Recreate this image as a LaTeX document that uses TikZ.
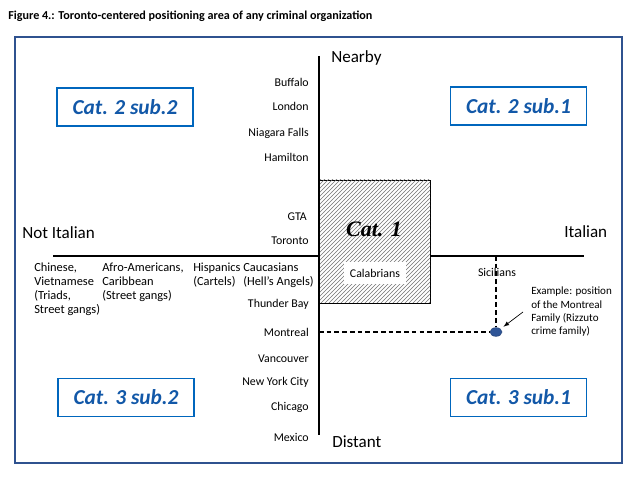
\documentclass[tikz,border=0pt]{standalone}
\usepackage{fontspec}
\setmainfont{Carlito}
\newfontfamily\catonefont{Liberation Serif}
\usepackage{xcolor}
\usepackage{tikz}
\usetikzlibrary{shapes.geometric}
\usetikzlibrary{arrows}
\usetikzlibrary{patterns}

\definecolor{framecol}{RGB}{47,82,143}
\definecolor{catcol}{RGB}{0,102,189}
\definecolor{cattext}{RGB}{18,88,168}
\definecolor{dotcol}{RGB}{47,85,151}

\tikzset{
    city/.style = {anchor=east, inner sep=0pt, font=\fontsize{8.9}{10.5}\selectfont},
    axislabel/.style = {anchor=west, inner sep=0pt, font=\fontsize{12.8}{15}\selectfont},
    group/.style = {anchor=north west, inner sep=0pt, align=left, font=\fontsize{9.3}{10.5}\selectfont},
    catbox/.style = {draw=catcol, line width=1.1pt, minimum width=102pt, minimum height=28.5pt,
        text=cattext, font=\fontsize{16}{18}\selectfont\bfseries\itshape},
    axis/.style = {line width=1.1pt},
    guide/.style = {line width=0.9pt, dash pattern=on 3.5pt off 2.3pt}
}

\begin{document}
\begin{tikzpicture}[x=0.75pt, y=-0.75pt]
        \useasboundingbox (0, 0) rectangle (640, 484);

        \node[anchor=west, inner sep=0pt, font=\fontsize{9.1}{10}\selectfont\bfseries] (title) at (8, 16)
            {Figure 4.: Toronto-centered positioning area of any criminal organization};
        \draw[framecol, line width=1.6pt] (15, 37) rectangle (622, 463);

        \coordinate (top) at (319, 56);
        \coordinate (bottom) at (319, 435);
        \coordinate (left) at (53, 256);
        \coordinate (right) at (584, 256);
        \draw[axis] (left) -- (right);

        \filldraw[fill=white, draw=black, line width=0.5pt] (319, 180) rectangle (430, 303);
        \fill[pattern=north east lines, pattern color=black!55] (319, 180) rectangle (430, 303);
        \draw[axis] (top) -- (bottom);

        \node[inner sep=0pt, font=\catonefont\fontsize{16.5}{18}\selectfont\bfseries\itshape] (cat1) at (374, 229) {Cat. 1};
        \node[fill=white, inner sep=0pt, minimum width=47pt, minimum height=16pt,
            font=\fontsize{8.9}{10.5}\selectfont] (calabrians) at (375, 273) {Calabrians};

        \node[catbox] (cat2sub2) at (125, 107) {Cat. 2 sub.2};
        \node[catbox] (cat2sub1) at (518.5, 106) {Cat. 2 sub.1};
        \node[catbox] (cat3sub2) at (126, 397.5) {Cat. 3 sub.2};
        \node[catbox] (cat3sub1) at (518.5, 397.5) {Cat. 3 sub.1};

        \node[axislabel] (nearby) at (331, 58) {Nearby};
        \node[axislabel] (distant) at (332, 442) {Distant};
        \node[axislabel] (notitalian) at (22, 233) {Not Italian};
        \node[axislabel] (italian) at (564, 232) {Italian};

        \node[city] (buffalo) at (309, 82) {Buffalo};
        \node[city] (london) at (309, 106) {London};
        \node[city] (niagara) at (309, 133) {Niagara Falls};
        \node[city] (hamilton) at (309, 157) {Hamilton};
        \node[city] (gta) at (307, 217) {GTA};
        \node[city] (toronto) at (309, 241) {Toronto};
        \node[city] (thunderbay) at (309, 304) {Thunder Bay};
        \node[city] (montreal) at (309, 332) {Montreal};
        \node[city] (vancouver) at (309, 359) {Vancouver};
        \node[city] (newyork) at (309, 382) {New York City};
        \node[city] (chicago) at (309, 407) {Chicago};
        \node[city] (mexico) at (309, 437) {Mexico};

        \node[group] (chinese) at (34, 263) {Chinese,\\Vietnamese\\(Triads,\\Street gangs)};
        \node[group] (afro) at (102, 263) {Afro-Americans,\\Caribbean\\(Street gangs)};
        \node[group] (hispanics) at (193, 263) {Hispanics\\(Cartels)};
        \node[group] (caucasians) at (243, 263) {Caucasians\\(Hell’s Angels)};

        \node[ellipse, fill=dotcol, draw=dotcol!80!black, inner sep=0pt, minimum width=9pt,
            minimum height=6.5pt] (montrealfam) at (496, 332) {};
        \draw[guide] (montrealfam |- left) -- (montrealfam.north);
        \draw[guide] (bottom |- montrealfam) -- (montrealfam.west);
        \node[inner sep=0pt, font=\fontsize{8.9}{10.5}\selectfont] (sicilians) at (497, 272) {Sicilians};

        \node[anchor=north west, inner sep=0pt, align=left, font=\fontsize{8.3}{10}\selectfont] (example)
            at (531, 287) {Example: position\\of the Montreal\\Family (Rizzuto\\crime family)};
        \draw[-latex, line width=0.5pt] ([xshift=-6pt]example.west) -- ([shift={(3,-2)}]montrealfam.north east);
\end{tikzpicture}
\end{document}
